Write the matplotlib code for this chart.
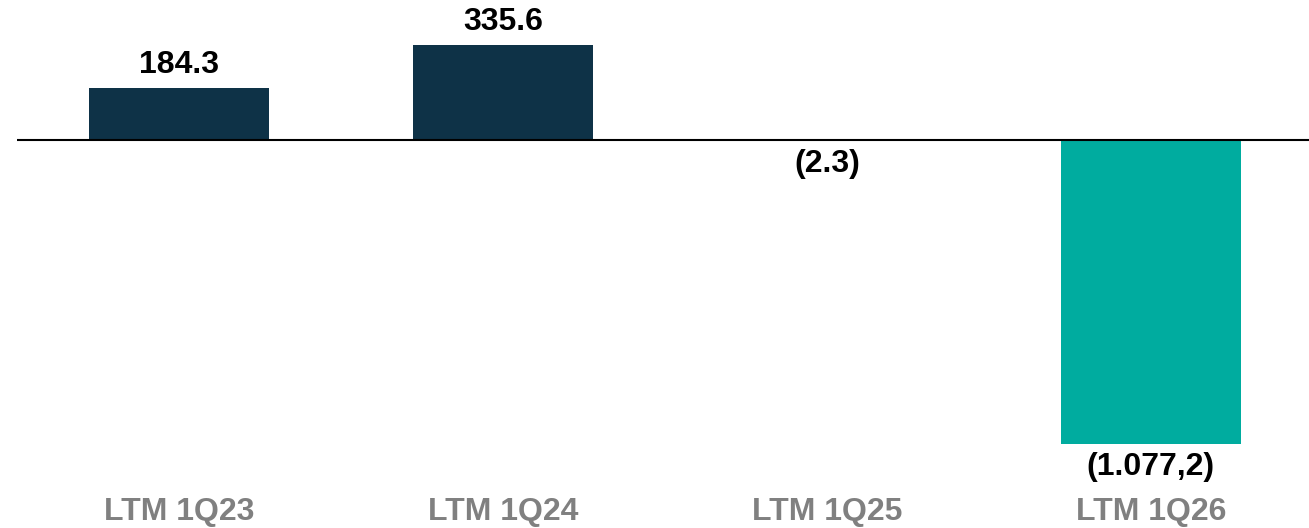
import matplotlib.pyplot as plt
import matplotlib.transforms as mtransforms

plt.rcParams['font.family'] = ['Liberation Sans', 'DejaVu Sans']

categories = ['LTM 1Q23', 'LTM 1Q24', 'LTM 1Q25', 'LTM 1Q26']
values = [184.3, 335.6, -2.3, -1077.2]
value_labels = ['184.3', '335.6', '(2.3)', '(1.077,2)']
bar_colors = ['#0E3247', '#0E3247', '#0E3247', '#00AC9F']

W, H = 1309, 528
fig = plt.figure(figsize=(W / 100, H / 100), dpi=100)
ax = fig.add_axes([17 / W, 0, 1 - 17 / W, 1])

px_per_unit = 0.2822
base_px = 140
ax.set_ylim(-(H - base_px) / px_per_unit, base_px / px_per_unit)
ax.set_xlim(-0.5, 3.488)

x = range(len(categories))
ax.bar(x, values, width=0.556, color=bar_colors, zorder=2)
ax.axhline(0, color='black', lw=1.5, zorder=3)

gap = 8 / px_per_unit
for i, (v, lab) in enumerate(zip(values, value_labels)):
    if v >= 0:
        ax.text(i, v + gap, lab, ha='center', va='bottom', fontsize=23,
                fontweight='bold', color='black')
    else:
        ax.text(i, v - gap, lab, ha='center', va='top', fontsize=23,
                fontweight='bold', color='black')

trans = mtransforms.blended_transform_factory(ax.transData, ax.transAxes)
for i, c in enumerate(categories):
    ax.text(i, 1 - 512 / H, c, transform=trans, ha='center', va='center',
            fontsize=23, fontweight='bold', color='#808080')

ax.axis('off')
fig.savefig('out.png', dpi=100)
